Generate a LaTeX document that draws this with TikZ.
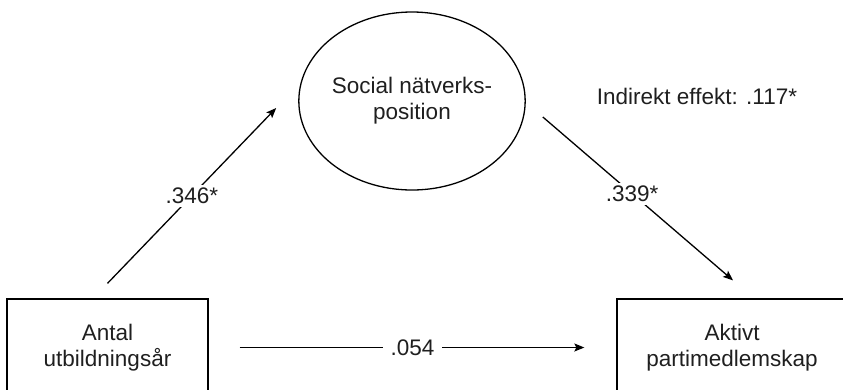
\documentclass[tikz,border=0pt]{standalone}
\usepackage{fontspec}
\setmainfont{Liberation Sans}
\usetikzlibrary{shapes.geometric,arrows.meta}

\tikzset{
  varbox/.style={draw,line width=1.3bp,minimum height=97bp,align=center,inner sep=0pt},
  path/.style={line width=1.3bp,-{Stealth[length=10bp,width=8bp,inset=2bp]}},
  coef/.style={fill=white,inner xsep=8bp,inner ysep=3bp}
}

\begin{document}
\begin{tikzpicture}[x=1bp,y=-1bp,font=\fontsize{22.5bp}{26bp}\selectfont,text=black!88]
\useasboundingbox (0,0) rectangle (843,389);

% create the nodes
\node[draw,ellipse,line width=1.3bp,minimum width=214bp,minimum height=178bp,
      align=center,inner sep=0pt] (soc) at (412,101) {Social nätverks-\\position};
\node[varbox,minimum width=201bp] (utb) at (107.5,347.5) {Antal\\utbildningsår};
\node[varbox,minimum width=230bp] (akt) at (732,347.5) {Aktivt\\partimedlemskap};

\node (ind) at (697,96) {Indirekt effekt: .117*};

% paths with coefficients
\draw[path] ([yshift=15bp]utb.north) -- ([xshift=-22bp,yshift=-7bp]soc.west)
  node[coef,pos=0.5] (a) {.346*};
\draw[path] ([xshift=17bp,yshift=-16bp]soc.east) -- ([xshift=1bp,yshift=18bp]akt.north)
  node[coef,pos=0.47] (b) {.339*};
\draw[path,shorten <=31bp,shorten >=32bp] (utb) -- (akt)
  node[coef,pos=0.5] (c) {.054};

\end{tikzpicture}
\end{document}
